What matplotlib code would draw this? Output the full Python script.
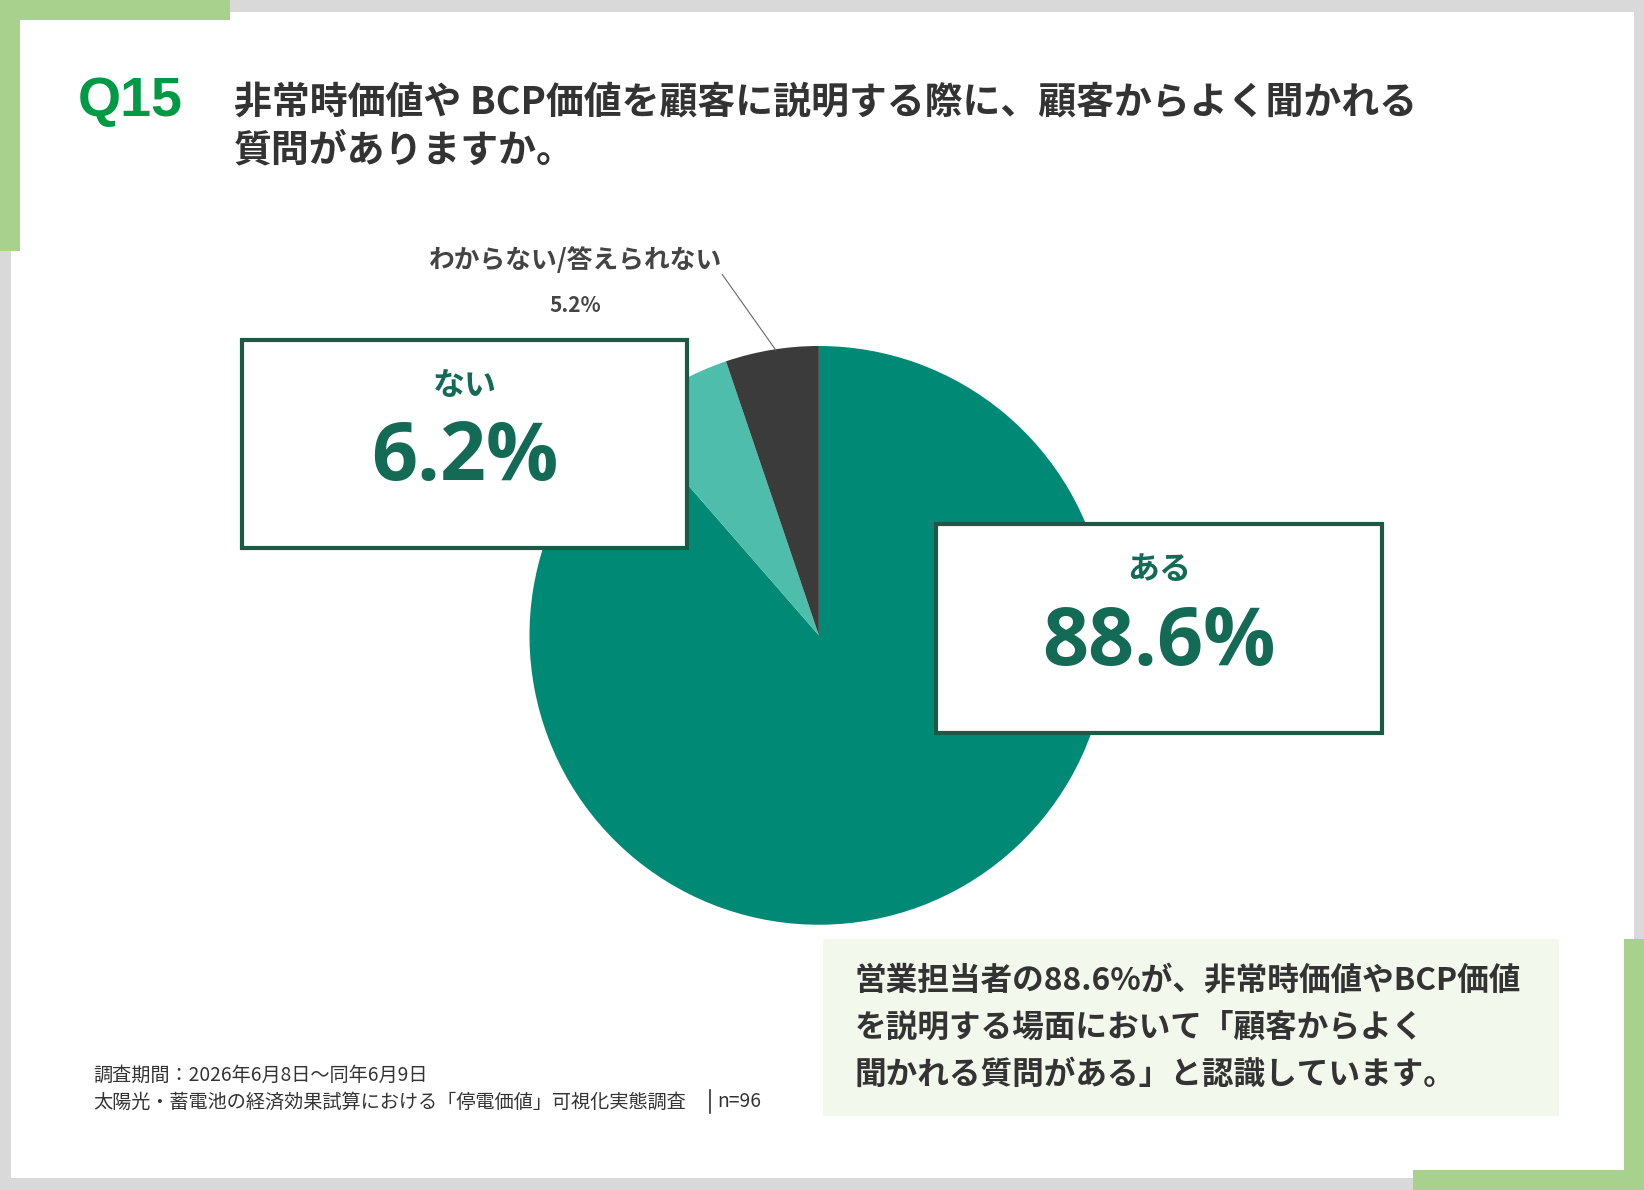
import matplotlib
matplotlib.use("Agg")
import matplotlib.pyplot as plt
from matplotlib.patches import Rectangle

plt.rcParams['font.family'] = ['Noto Sans CJK JP', 'DejaVu Sans']

# ---- data ----
question_no = "Q15"
title_lines = ["非常時価値や BCP価値を顧客に説明する際に、顧客からよく聞かれる",
               "質問がありますか。"]
categories = ["ある", "ない", "わからない/答えられない"]
values = [88.6, 6.2, 5.2]
summary_lines = ["営業担当者の88.6%が、非常時価値やBCP価値",
                 "を説明する場面において「顧客からよく",
                 "聞かれる質問がある」と認識しています。"]
footer_lines = ["調査期間：2026年6月8日～同年6月9日",
                "太陽光・蓄電池の経済効果試算における「停電価値」可視化実態調査"]
sample_text = "n=96"

# ---- style ----
slice_colors = ["#008a76", "#4fbdab", "#3b3b3b"]
gray = "#d9d9d9"
lgreen = "#a9d18e"
qgreen = "#009a44"
dark = "#333333"
box_text = "#146b55"
box_edge = "#1d5a45"

W, H = 1568, 1135
fig = plt.figure(figsize=(16.44, 11.90), dpi=100)
fig.patch.set_facecolor(gray)

# background axes
bg = fig.add_axes([0, 0, 1, 1], zorder=0)
bg.set_xlim(0, W); bg.set_ylim(H, 0); bg.axis('off')
bg.add_patch(Rectangle((10.5, 11), 1547.5, 1113, facecolor='white', edgecolor='none'))
bg.add_patch(Rectangle((0, 0), 219, 19, facecolor=lgreen, edgecolor='none'))
bg.add_patch(Rectangle((0, 0), 19.5, 239, facecolor=lgreen, edgecolor='none'))
bg.add_patch(Rectangle((1549, 896), 19, H - 896, facecolor=lgreen, edgecolor='none'))
bg.add_patch(Rectangle((1348, 1116), W - 1348, 19, facecolor=lgreen, edgecolor='none'))

# pie axes
cx, cy, r = 781, 606, 276
pax = fig.add_axes([(cx - r) / W, 1 - (cy + r) / H, 2 * r / W, 2 * r / H], zorder=1)
pax.pie(values, colors=slice_colors, startangle=90, counterclock=False,
        radius=1, wedgeprops=dict(linewidth=0))
pax.set_xlim(-1, 1); pax.set_ylim(-1, 1); pax.set_aspect('equal'); pax.axis('off')

# overlay axes
ov = fig.add_axes([0, 0, 1, 1], zorder=2)
ov.set_xlim(0, W); ov.set_ylim(H, 0); ov.axis('off')
ov.patch.set_alpha(0)

# title
ov.text(74, 97, question_no, fontsize=40, fontweight='bold', color=qgreen,
        family=['Liberation Sans'], va='center', ha='left')
ov.text(223, 98, title_lines[0], fontsize=27.3, fontweight='bold', color=dark, va='center', ha='left')
ov.text(223, 143, title_lines[1], fontsize=27.3, fontweight='bold', color=dark, va='center', ha='left')

# small label for third slice
ov.text(549, 248, categories[2], fontsize=18.5, fontweight='bold', color='#444444', ha='center', va='center')
ov.text(549, 291, f"{values[2]}%", fontsize=15, fontweight='bold', color='#444444', ha='center', va='center')
ov.plot([689, 740], [262, 334], color='#666666', lw=0.8)

# boxes
def label_box(x0, y0, x1, y1, cat, val):
    ov.add_patch(Rectangle((x0, y0), x1 - x0, y1 - y0, facecolor='white',
                           edgecolor=box_edge, linewidth=3))
    xc = (x0 + x1) / 2
    ov.text(xc, y0 + 44, cat, fontsize=23, fontweight='bold', color=box_text, ha='center', va='center')
    ov.text(xc, y0 + 114, f"{val}%", fontsize=58, fontweight='bold', color=box_text,
            family=['Open Sans'], ha='center', va='center')

label_box(231, 324, 655, 523, categories[1], values[1])
label_box(893, 500, 1318, 699, categories[0], values[0])

# summary box
ov.add_patch(Rectangle((785, 896), 702, 168, facecolor='#f2f8ec', edgecolor='none'))
for i, line in enumerate(summary_lines):
    ov.text(815, 935 + i * 45, line, fontsize=22.8, fontweight='bold', color=dark, ha='left', va='center')

# footer
ov.text(89, 1026, footer_lines[0], fontsize=13.8, color=dark, ha='left', va='center')
ov.text(89, 1051, footer_lines[1], fontsize=13.8, color=dark, ha='left', va='center')
ov.plot([677, 677], [1040, 1062], color=dark, lw=1.2)
ov.text(684, 1051, sample_text, fontsize=13.8, color=dark, ha='left', va='center')

fig.savefig("out.png", dpi=100, facecolor=fig.get_facecolor())
